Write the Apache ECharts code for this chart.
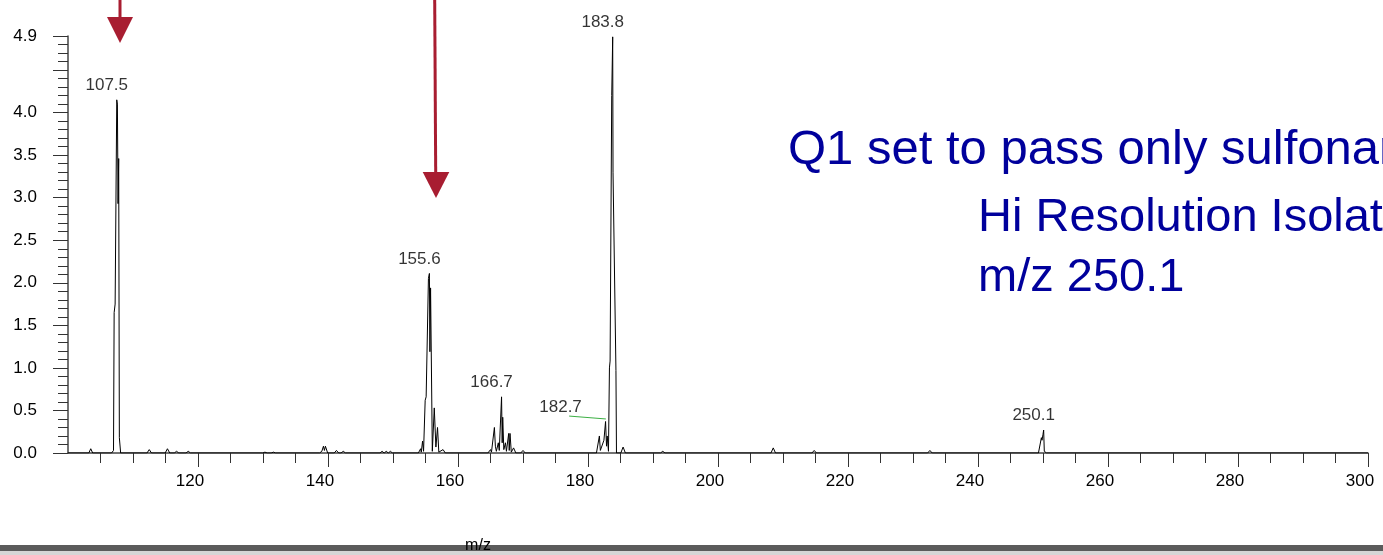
<!DOCTYPE html>
<html>
<head>
<meta charset="utf-8">
<title>MS/MS spectrum</title>
<script src="https://cdn.jsdelivr.net/npm/echarts@6/dist/echarts.min.js"></script>
<style>
  html, body { margin: 0; padding: 0; background: #ffffff; }
  #chart { width: 1383px; height: 555px; }
</style>
</head>
<body>
<div id="chart"></div>
<script>
// Product-ion spectrum: m/z and relative intensity, point by point.
// Baseline points sit a little apart from each bump so the polyline keeps every small peak.
const mz = [
  100.0, 103.2, 103.5, 103.8, 106.7, 107.0, 107.1, 107.25, 107.5, 107.6, 107.7, 107.8, 107.9, 108.0, 108.1,
  112.15, 112.5, 112.85, 114.95, 115.3, 115.65, 116.35, 116.7, 117.05, 118.15, 118.5, 118.85,
  129.95, 130.3, 130.65, 131.25, 131.6, 131.95,
  138.7, 139.05, 139.3, 139.45, 139.6, 139.95, 140.95, 141.3, 141.65, 142.0, 142.35, 142.7,
  148.0, 148.32, 148.64, 148.96, 149.28, 149.6, 149.92,
  153.9, 154.25, 154.35, 154.55, 154.7, 154.95, 155.1, 155.45, 155.6, 155.68, 155.78, 156.05, 156.2, 156.35, 156.6, 156.85, 157.05, 157.35, 157.7, 158.05,
  164.6, 165.0, 165.15, 165.6, 165.75, 165.9, 166.2, 166.35, 166.7, 166.8, 166.88, 167.05, 167.3, 167.45, 167.8, 167.88, 168.0, 168.2, 168.55, 168.9,
  169.65, 170.0, 170.35,
  181.3, 181.75, 181.9, 182.1, 182.45, 182.7, 182.85, 182.95, 183.15, 183.3, 183.4, 183.65, 183.8, 183.85, 184.3, 184.38,
  185.05, 185.4, 185.75, 191.15, 191.5, 191.85, 208.15, 208.5, 208.85, 214.45, 214.8, 215.15, 232.25, 232.6, 232.95,
  249.3, 249.75, 249.85, 250.0, 250.1, 250.2, 250.55, 300.0
];
const intensity = [
  0, 0, 0.05, 0, 0, 0.03, 1.65, 1.75, 4.15, 4.10, 2.93, 3.46, 0.18, 0.17, 0,
  0, 0.04, 0, 0, 0.05, 0, 0, 0.02, 0, 0, 0.02, 0,
  0, 0.01, 0, 0, 0.01, 0,
  0, 0.02, 0.08, 0.03, 0.08, 0, 0, 0.03, 0, 0, 0.02, 0,
  0, 0.02, 0, 0.02, 0, 0.02, 0,
  0, 0.05, 0.01, 0.14, 0.02, 0.62, 0.66, 2.05, 2.11, 1.19, 1.94, 0.02, 0, 0.53, 0.07, 0.30, 0.01, 0, 0.04, 0,
  0, 0.04, 0.01, 0.30, 0.08, 0.02, 0.12, 0.03, 0.66, 0.12, 0.42, 0.04, 0.12, 0.02, 0.23, 0.03, 0.23, 0.01, 0.06, 0,
  0, 0.03, 0,
  0, 0.20, 0.03, 0.05, 0.15, 0.37, 0.08, 0.20, 0.02, 1.00, 1.08, 4.20, 4.89, 3.30, 0.97, 0,
  0, 0.07, 0, 0, 0.02, 0, 0, 0.06, 0, 0, 0.03, 0, 0, 0.03, 0,
  0, 0.18, 0.15, 0.22, 0.27, 0.02, 0, 0
];

// Annotated peaks (label text = m/z)
const peakMz = [107.5, 155.6, 166.7, 182.7, 183.8, 250.1];
const peakInt = [4.15, 2.11, 0.66, 0.37, 4.89, 0.27];

// Leader line from the 182.7 label to its peak
const leaderFrom = [177.1, 0.434];
const leaderTo = [182.75, 0.40];

// Axis ranges and tick values
const xMin = 100, xMax = 300, xStep = 20;
const xMajorTicks = [120, 140, 160, 180, 200, 220, 240, 260, 280, 300];
const yMin = 0, yMax = 4.9, yStep = 0.5, yMinorStep = 0.1;

// Annotation text
const noteLines = ['Q1 set to pass only sulfonamide', 'Hi Resolution Isolation', 'm/z 250.1'];
const xTitle = 'm/z';

const FONT = '"Liberation Sans", Arial, sans-serif';
const chart = echarts.init(document.getElementById('chart'), null, { renderer: 'canvas' });

const spectrum = mz.map((m, i) => [m, intensity[i]]);
const peaks = peakMz.map((m, i) => ({
  value: [m, peakInt[i]],
  label: m === 182.7 ? { offset: [-45, -1] } : undefined
}));

const arrowColor = '#a81d31';
const noteColor = '#00009c';

const option = {
  animation: false,
  backgroundColor: '#ffffff',
  grid: { left: 68, right: 15, top: 36, bottom: 102, containLabel: false },
  xAxis: {
    type: 'value', min: xMin, max: xMax, interval: xStep, position: 'bottom',
    axisLine: { show: true, lineStyle: { color: '#444', width: 1.5 } },
    axisTick: { show: true, length: 14, customValues: xMajorTicks, lineStyle: { color: '#333', width: 1 } },
    minorTick: { show: true, splitNumber: 4, length: 10, lineStyle: { color: '#333', width: 1 } },
    axisLabel: {
      margin: 20, fontSize: 17, color: '#000', fontFamily: FONT,
      padding: [0, 16, 0, 0],
      customValues: xMajorTicks,
      formatter: v => String(v)
    },
    splitLine: { show: false }
  },
  yAxis: [
    {
      type: 'value', min: yMin, max: yMax, interval: yStep, position: 'left',
      axisLine: { show: true, lineStyle: { color: '#444', width: 1.5 } },
      axisTick: { show: true, length: 15, lineStyle: { color: '#333', width: 1 } },
      axisLabel: {
        margin: 31, fontSize: 17, color: '#000', fontFamily: FONT,
        formatter: v => (Math.abs(v - 4.5) < 1e-6 ? '' : v.toFixed(1))
      },
      splitLine: { show: false }
    },
    {
      type: 'value', min: yMin, max: yMax, interval: yMinorStep, position: 'left',
      axisLine: { show: false },
      axisTick: { show: true, length: 10, lineStyle: { color: '#333', width: 1 } },
      axisLabel: { show: false },
      splitLine: { show: false }
    }
  ],
  series: [
    {
      type: 'line', data: spectrum, yAxisIndex: 0,
      showSymbol: false, symbol: 'none',
      lineStyle: { color: '#000', width: 1 },
      silent: true, z: 3
    },
    {
      type: 'scatter', data: peaks, yAxisIndex: 0,
      symbolSize: 0, silent: true, z: 4,
      label: {
        show: true, position: 'top', distance: 5, offset: [-10, -1],
        fontSize: 17, color: '#000', fontFamily: FONT,
        formatter: p => p.value[0].toFixed(1)
      },
      markLine: {
        silent: true, symbol: 'none', animation: false,
        label: { show: false },
        lineStyle: { color: '#3cb044', width: 1, type: 'solid' },
        data: [[{ coord: leaderFrom }, { coord: leaderTo }]]
      }
    }
  ],
  graphic: [
    // bottom band
    { type: 'rect', left: 0, top: 545, shape: { width: 1383, height: 6 }, style: { fill: '#5b5b5b' }, z: 1 },
    { type: 'rect', left: 0, top: 551, shape: { width: 1383, height: 4 }, style: { fill: '#d6d6d6' }, z: 1 },
    { type: 'text', x: 478, y: 546, z: 5,
      style: { text: xTitle, font: '16px ' + FONT, fill: '#000', align: 'center', verticalAlign: 'middle' } },
    // notes
    { type: 'text', x: 788, y: 150, z: 5,
      style: { text: noteLines[0], font: '49px ' + FONT, fill: noteColor, align: 'left', verticalAlign: 'middle' } },
    { type: 'text', x: 978, y: 218, z: 5,
      style: { text: noteLines[1], font: '47px ' + FONT, fill: noteColor, align: 'left', verticalAlign: 'middle' } },
    { type: 'text', x: 978, y: 278, z: 5,
      style: { text: noteLines[2], font: '47px ' + FONT, fill: noteColor, align: 'left', verticalAlign: 'middle' } },
    // arrows
    { type: 'line', z: 5, shape: { x1: 120, y1: 0, x2: 120, y2: 19 }, style: { stroke: arrowColor, lineWidth: 3 } },
    { type: 'polygon', z: 5, shape: { points: [[107, 17], [133, 17], [120, 43]] }, style: { fill: arrowColor } },
    { type: 'line', z: 5, shape: { x1: 434.7, y1: 0, x2: 435.7, y2: 174 }, style: { stroke: arrowColor, lineWidth: 3 } },
    { type: 'polygon', z: 5, shape: { points: [[422.7, 172], [449.3, 172], [436, 198]] }, style: { fill: arrowColor } }
  ]
};

chart.setOption(option);
</script>
</body>
</html>
